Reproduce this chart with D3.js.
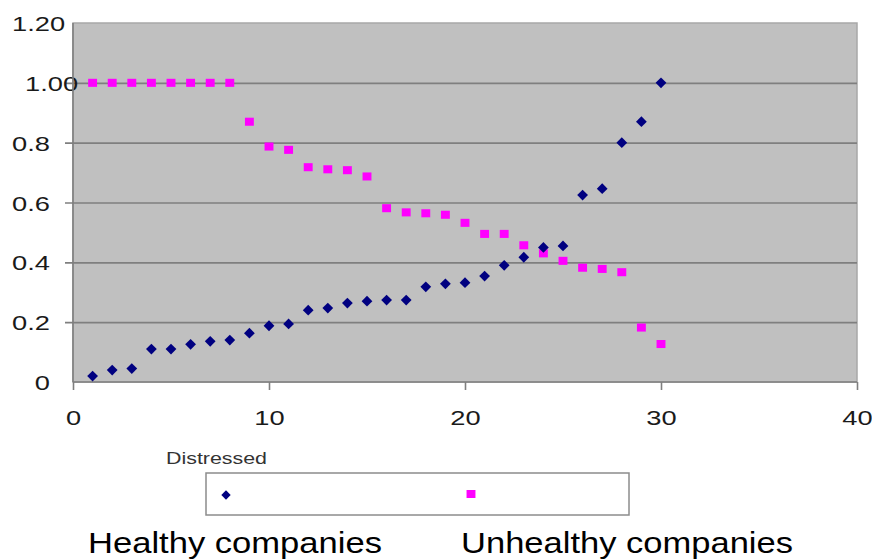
<!DOCTYPE html>
<html>
<head>
<meta charset="utf-8">
<script src="https://cdn.jsdelivr.net/npm/d3@7/dist/d3.min.js"></script>
<style>
  html, body { margin: 0; padding: 0; background: #ffffff; }
  svg { display: block; font-family: "Liberation Sans", Arial, sans-serif; }
</style>
</head>
<body>
<svg id="chart" width="872" height="560"></svg>
<script>
// Company index (1..30) shared by both series
const companies = d3.range(1, 31);

// Distress score of healthy companies (diamonds)
const healthy = [
  0.02, 0.04, 0.045, 0.11, 0.11, 0.126, 0.136, 0.14, 0.163, 0.188,
  0.194, 0.24, 0.247, 0.264, 0.27, 0.274, 0.274, 0.318, 0.328, 0.332,
  0.354, 0.39, 0.417, 0.45, 0.455, 0.625, 0.646, 0.80, 0.87, 1.00
];

// Distress score of unhealthy companies (squares)
const unhealthy = [
  1.00, 1.00, 1.00, 1.00, 1.00, 1.00, 1.00, 1.00, 0.87, 0.787,
  0.776, 0.718, 0.711, 0.708, 0.687, 0.581, 0.567, 0.564, 0.559, 0.532,
  0.495, 0.495, 0.457, 0.43, 0.405, 0.382, 0.378, 0.367, 0.182, 0.127
];

const xTicks = [0, 10, 20, 30, 40];
const yTicks = [0, 0.2, 0.4, 0.6, 0.8, 1.0, 1.2];
const yTickLabels = ["0", "0.2", "0.4", "0.6", "0.8", "1.00", "1.20"];

const legendTitle = "Distressed";
const seriesNames = ["Healthy companies", "Unhealthy companies"];

const svg = d3.select("#chart");
const plot = { left: 73, top: 23, right: 857, bottom: 382 };
const stretch = 1.3;   // wide lettering of the tick labels

const x = d3.scaleLinear().domain([0, 40]).range([plot.left, plot.right]);
const y = d3.scaleLinear().domain([0, 1.2]).range([plot.bottom, plot.top]);

// Plot background
svg.append("rect")
  .attr("x", plot.left).attr("y", plot.top)
  .attr("width", plot.right - plot.left).attr("height", plot.bottom - plot.top)
  .attr("fill", "#c0c0c0")
  .attr("stroke", "#a8a8a8").attr("stroke-width", 1.5);

// Horizontal gridlines with outer ticks on the left
const yAxis = svg.append("g")
  .attr("transform", `translate(${plot.left},0)`)
  .call(d3.axisLeft(y).tickValues(yTicks)
    .tickSize(8)
    .tickFormat((d, i) => yTickLabels[i]));
yAxis.select(".domain").remove();
yAxis.selectAll(".tick line")
  .attr("stroke", "#7f7f7f").attr("stroke-width", 1.6)
  .attr("x2", d => d === 1.2 ? -8 : (d === 0 ? -8 : plot.right - plot.left))
  .attr("x1", -8);
yAxis.selectAll(".tick text")
  .attr("font-size", 21).attr("fill", "#1a1a1a")
  .attr("dy", "0.36em")
  .attr("x", null)
  .attr("text-anchor", d => d === 0 ? "end" : "start")
  .attr("transform", d => {
    let left = -61;                 // left edge at x = 12
    if (d === 0) left = -23;        // right-aligned single zero
    if (d === 1.0) left = -48;
    return `translate(${left},0) scale(${stretch},1)`;
  });

// Vertical axis line
svg.append("line")
  .attr("x1", plot.left).attr("x2", plot.left)
  .attr("y1", plot.top).attr("y2", plot.bottom)
  .attr("stroke", "#7f7f7f").attr("stroke-width", 1.6);

// Horizontal axis
const xAxis = svg.append("g")
  .attr("transform", `translate(0,${plot.bottom})`)
  .call(d3.axisBottom(x).tickValues(xTicks).tickSize(8).tickFormat(d3.format("d")));
xAxis.select(".domain")
  .attr("stroke", "#7f7f7f").attr("stroke-width", 1.6)
  .attr("d", `M${plot.left},0H${plot.right}`);
xAxis.selectAll(".tick line").attr("stroke", "#7f7f7f").attr("stroke-width", 1.6);
xAxis.selectAll(".tick text")
  .attr("font-size", 21).attr("fill", "#1a1a1a")
  .attr("y", null).attr("dy", null)
  .attr("text-anchor", "middle")
  .attr("transform", `translate(0,43) scale(${stretch},1)`);

// Series markers
const diamond = d3.symbol().type(d3.symbolSquare).size(58)();
const square = d3.symbol().type(d3.symbolSquare).size(72)();

svg.append("g").selectAll("path")
  .data(companies.map((c, i) => [c, unhealthy[i]]))
  .join("path")
  .attr("d", square)
  .attr("fill", "#ff00ff")
  .attr("transform", d => `translate(${x(d[0])},${y(d[1])}) scale(1.05,0.95)`);

svg.append("g").selectAll("path")
  .data(companies.map((c, i) => [c, healthy[i]]))
  .join("path")
  .attr("d", diamond)
  .attr("fill", "#000080")
  .attr("transform", d => `translate(${x(d[0])},${y(d[1])}) rotate(45)`);

// Legend
svg.append("text")
  .attr("x", 166).attr("y", 464)
  .attr("font-size", 16).attr("fill", "#333")
  .attr("textLength", 101).attr("lengthAdjust", "spacingAndGlyphs")
  .text(legendTitle);

const legend = svg.append("g");
legend.append("rect")
  .attr("x", 206).attr("y", 473).attr("width", 423).attr("height", 42)
  .attr("fill", "#ffffff").attr("stroke", "#8c8c8c").attr("stroke-width", 1.5);
legend.append("path")
  .attr("d", d3.symbol().type(d3.symbolSquare).size(44)())
  .attr("fill", "#000080")
  .attr("transform", "translate(226,495) rotate(45)");
legend.append("path")
  .attr("d", square)
  .attr("fill", "#ff00ff")
  .attr("transform", "translate(471,494) scale(1.05,0.95)");

// Series names beneath the legend
svg.append("text")
  .attr("x", 88).attr("y", 553)
  .attr("font-size", 30).attr("fill", "#000")
  .attr("textLength", 294).attr("lengthAdjust", "spacingAndGlyphs")
  .text(seriesNames[0]);
svg.append("text")
  .attr("x", 461).attr("y", 553)
  .attr("font-size", 30).attr("fill", "#000")
  .attr("textLength", 332).attr("lengthAdjust", "spacingAndGlyphs")
  .text(seriesNames[1]);
</script>
</body>
</html>
